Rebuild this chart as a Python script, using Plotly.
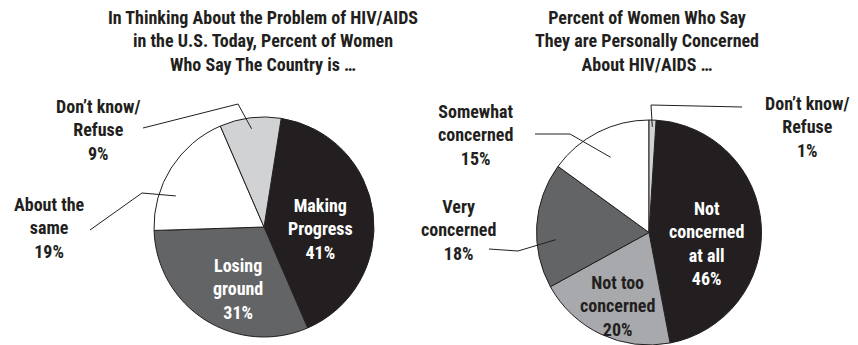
import math
import plotly.graph_objects as go

W, H = 858, 345

# --- data -------------------------------------------------------------
progress_labels = ["Making Progress", "Losing ground", "About the same", "Don't know/ Refuse"]
progress_values = [41, 31, 19, 9]
progress_colors = ["#231f20", "#636466", "#ffffff", "#d1d2d4"]

concern_labels = ["Not concerned at all", "Not too concerned", "Very concerned",
                  "Somewhat concerned", "Don't know/ Refuse"]
concern_values = [46, 20, 18, 15, 1]
concern_colors = ["#231f20", "#a7a9ac", "#636466", "#ffffff", "#d1d2d4"]

title_left = "In Thinking About the Problem of HIV/AIDS<br>in the U.S. Today, Percent of Women<br>Who Say The Country is \u2026"
title_right = "Percent of Women Who Say<br>They are Personally Concerned<br>About HIV/AIDS \u2026"

# --- layout geometry (pixels) -----------------------------------------
LEFT = dict(cx=264, cy=227, r=110, rotation=9)
RIGHT = dict(cx=649, cy=232.5, r=112.5, rotation=3.6)

FONT = "Roboto Condensed, Liberation Sans Narrow, Arial Narrow, sans-serif"
INK = "#231f20"
FS = 18


def px(x):
    return x / W


def py(y):
    return 1 - y / H


def domain(g):
    return dict(x=[px(g["cx"] - g["r"]), px(g["cx"] + g["r"])],
                y=[max(0, py(g["cy"] + g["r"])), py(g["cy"] - g["r"])])


def slice_point(g, values, idx, frac, offset=0.0):
    """Point inside slice idx: at its mid-angle (+offset deg), frac of the radius."""
    total = sum(values)
    start = g["rotation"] + 360 * sum(values[:idx]) / total
    mid = start + 180 * values[idx] / total + offset
    a = math.radians(mid)
    return g["cx"] + frac * g["r"] * math.sin(a), g["cy"] - frac * g["r"] * math.cos(a)


fig = go.Figure()
for g, labels, values, colors in [(LEFT, progress_labels, progress_values, progress_colors),
                                  (RIGHT, concern_labels, concern_values, concern_colors)]:
    fig.add_trace(go.Pie(
        labels=labels, values=values, sort=False, direction="clockwise",
        rotation=g["rotation"], domain=domain(g),
        marker=dict(colors=colors, line=dict(color=INK, width=1)),
        textinfo="none", hoverinfo="skip", showlegend=False,
    ))

annotations = []


def label(text, x, y, color=INK):
    annotations.append(dict(
        text=text, x=px(x), y=py(y), xref="paper", yref="paper",
        xanchor="center", yanchor="middle", showarrow=False, align="center",
        font=dict(family=FONT, size=FS, color=color, weight="bold"),
    ))


def pct(v):
    return f"{v}%"


# titles
label(title_left, 263, 41)
label(title_right, 647, 41)

# left pie labels
label(f"Don\u2019t know/<br>Refuse<br>{pct(progress_values[3])}", 98, 130)
label(f"About the<br>same<br>{pct(progress_values[2])}", 49, 228)
label(f"Making<br>Progress<br>{pct(progress_values[0])}", 320, 229, "#ffffff")
label(f"Losing<br>ground<br>{pct(progress_values[1])}", 238, 289, "#ffffff")

# right pie labels
label(f"Somewhat<br>concerned<br>{pct(concern_values[3])}", 476, 135)
label(f"Very<br>concerned<br>{pct(concern_values[2])}", 458, 230)
label(f"Don\u2019t know/<br>Refuse<br>{pct(concern_values[4])}", 807, 127)
label(f"Not<br>concerned<br>at all<br>{pct(concern_values[0])}", 706, 243, "#ffffff")
label(f"Not too<br>concerned<br>{pct(concern_values[1])}", 617, 306)

# leader lines: text side -> elbow -> point inside the slice
shapes = []


def leader(points):
    d = "M " + " L ".join(f"{px(x)},{py(y)}" for x, y in points)
    shapes.append(dict(type="path", path=d, xref="paper", yref="paper",
                       line=dict(color=INK, width=1)))


leader([(143, 128), (238, 104), slice_point(LEFT, progress_values, 3, 0.9)])
leader([(90, 230), (142, 193), slice_point(LEFT, progress_values, 2, 0.85, -13)])
leader([(535, 134), (570, 134), slice_point(RIGHT, concern_values, 3, 0.75)])
leader([(489, 249), (518, 251), slice_point(RIGHT, concern_values, 2, 0.83, -8)])
leader([(742, 107), (651, 105), slice_point(RIGHT, concern_values, 4, 0.94)])

fig.update_layout(
    width=W, height=H, margin=dict(l=0, r=0, t=0, b=0),
    paper_bgcolor="#ffffff", plot_bgcolor="#ffffff",
    annotations=annotations, shapes=shapes,
)

fig.write_html("out.html", config={"displayModeBar": False})
